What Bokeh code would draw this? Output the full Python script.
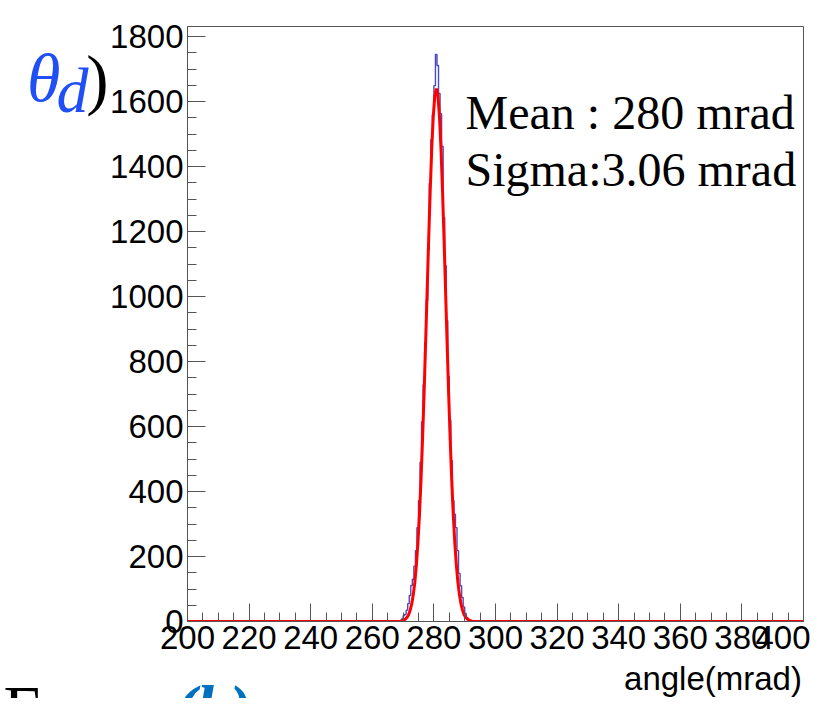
from bokeh.plotting import figure
from bokeh.models import Range1d, Label, FixedTicker, LinearAxis
from bokeh.embed import file_html
from bokeh.resources import INLINE

# ---------------- data ----------------
bin_width = 0.5
bin_first_edge = 268.5
counts = [2, 3, 8, 18, 22, 35, 55, 80, 111, 130, 170, 218, 289, 372, 490,
          615, 729, 858, 988, 1145, 1348, 1483, 1560, 1649, 1745, 1711, 1625,
          1563, 1462, 1243, 1095, 926, 754, 620, 495, 372, 330, 289, 218, 148,
          110, 74, 45, 25, 12, 3, 1]

fit_x = [200, 268.8, 269.3, 269.8, 270.3, 270.8, 271.3, 271.8, 272.3, 272.8,
         273.3, 273.8, 274.3, 274.8, 275.3, 275.8, 276.3, 276.8, 277.3, 277.8,
         278.3, 278.8, 279.3, 279.8, 280.3, 280.8, 281.3, 281.8, 282.3, 282.8,
         283.3, 283.8, 284.3, 284.8, 285.3, 285.8, 286.3, 286.8, 287.3, 287.8,
         288.3, 288.8, 289.3, 289.8, 290.3, 290.8, 291.3, 291.8, 292.3, 292.8, 400]
fit_y = [0, 0, 1, 3, 5, 8, 13, 21, 35, 54, 82, 120, 172, 240, 326, 432, 557,
         698, 853, 1014, 1175, 1325, 1455, 1555, 1618, 1640, 1618, 1555, 1455,
         1325, 1175, 1014, 853, 698, 557, 432, 326, 240, 172, 120, 82, 54, 35,
         21, 13, 8, 5, 3, 1, 0, 0]

x_ticks = [200, 220, 240, 260, 280, 300, 320, 340, 360, 380, 400]
y_ticks = [0, 200, 400, 600, 800, 1000, 1200, 1400, 1600, 1800]
x_title = "angle(mrad)"
mean_text = "Mean : 280 mrad"
sigma_text = "Sigma:3.06 mrad"
side_texts = ["θ", "d", ")"]
bottom_texts = ["From", "(b)"]

# ---------------- layout (pixel positions on the canvas) ----------------
W, H = 810, 698
FL, FR, FT, FB = 187, 803, 26, 621
X0, X1 = 200, 400
Y0, Y1 = 0, 1831
NBSP = "\u00a0"

p = figure(width=W, height=H, output_backend="svg", toolbar_location=None,
           x_range=Range1d(X0, X1), y_range=Range1d(Y0, Y1),
           min_border_left=FL, min_border_right=W - FR,
           min_border_top=FT, min_border_bottom=H - FB)
p.grid.visible = False
p.background_fill_color = "white"
p.border_fill_color = "white"
p.outline_line_color = "#555555"
p.outline_line_width = 1

# pixel-coordinate ranges used to place the texts that sit outside the frame
p.extra_x_ranges = {"px": Range1d(FL, FR)}
p.extra_y_ranges = {"py": Range1d(FB, FT)}

# histogram as a step outline
edges = [bin_first_edge + i * bin_width for i in range(len(counts) + 1)]
hx = [X0] + edges + [X1]
hy = [0] + counts + [0, 0]
p.step(hx, hy, mode="after", line_color="#2a2ab8", line_width=1.4, line_alpha=0.85)

# fit curve
p.line(fit_x, fit_y, line_color="#ff0000", line_width=3)

tick_col = "#555555"
p.xaxis.ticker = FixedTicker(ticks=x_ticks, minor_ticks=list(range(200, 401, 5)))
p.yaxis.ticker = FixedTicker(ticks=y_ticks, minor_ticks=list(range(0, 1801, 50)))
for ax in (p.xaxis, p.yaxis):
    ax.major_tick_in = 18
    ax.major_tick_out = 0
    ax.minor_tick_in = 9
    ax.minor_tick_out = 0
    ax.major_tick_line_color = tick_col
    ax.minor_tick_line_color = tick_col
    ax.axis_line_color = tick_col
    ax.major_label_text_font = "Liberation Sans"
    ax.major_label_text_font_size = "33px"
    ax.major_label_text_color = "black"
p.xaxis.major_label_standoff = 4
p.yaxis.major_label_standoff = 4

font_sans = "Liberation Sans"
font_serif = "Liberation Serif"

p.add_layout(Label(x=290.26, y=1485, text=mean_text, text_align="left",
                   text_font=font_serif, text_font_size="48px", text_color="black"))
p.add_layout(Label(x=290.26, y=1310, text=sigma_text, text_align="left",
                   text_font=font_serif, text_font_size="48px", text_color="black"))


def text_axis(side, tick, text, font, size, style, color, standoff):
    """A tick-label-only axis used to place one text outside the frame."""
    if side in ("above", "below"):
        ax = LinearAxis(x_range_name="px", ticker=FixedTicker(ticks=[tick], minor_ticks=[]))
    else:
        ax = LinearAxis(y_range_name="py", ticker=FixedTicker(ticks=[tick], minor_ticks=[]))
    ax.axis_line_color = None
    ax.major_tick_line_color = None
    ax.minor_tick_line_color = None
    ax.major_tick_in = 0
    ax.major_tick_out = 0
    ax.minor_tick_in = 0
    ax.minor_tick_out = 0
    ax.major_label_standoff = standoff
    ax.major_label_overrides = {tick: text}
    ax.major_label_text_font = font
    ax.major_label_text_font_size = size
    ax.major_label_text_font_style = style
    ax.major_label_text_color = color
    p.add_layout(ax, side)
    return ax


blue = "#1f4ff5"
# "θ_d)" at the upper left: ")", "d", "θ" stacked in the left panel
text_axis("left", 78.4, side_texts[2], font_serif, "67px", "normal", "black", -1)
text_axis("left", 90.4, side_texts[1], font_serif, "64px", "italic", blue, -5)
text_axis("left", 77.0, side_texts[0], font_serif, "68px", "italic", blue, -7)
# x-axis title, right-aligned under the frame
text_axis("above", 712.5, x_title, font_sans, "33px", "normal", "black", -670)
# "From (b)" at the bottom edge
text_axis("above", 190.0, bottom_texts[0] + NBSP * 14, font_serif, "66px", "normal", "black", -718)
text_axis("above", 212.5, bottom_texts[1], font_serif, "66px", "bold italic", "#0070c0", -718)

open("out.html", "w").write(file_html(p, INLINE))
